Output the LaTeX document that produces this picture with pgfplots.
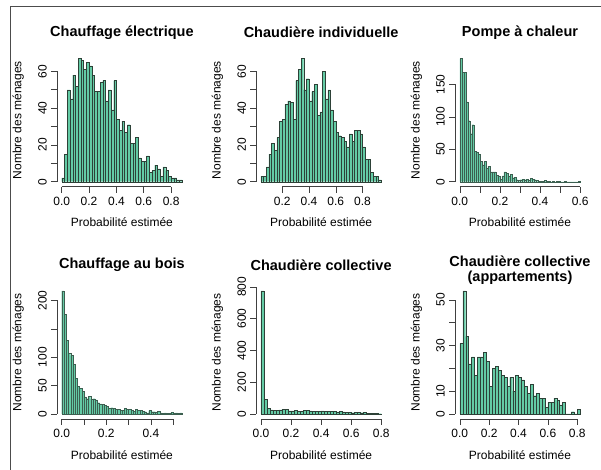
\documentclass[border=0pt]{standalone}
\usepackage{fontspec}
\setmainfont{Liberation Sans}
\usepackage{pgfplots}
\pgfplotsset{compat=1.18}
\definecolor{barfill}{RGB}{100,203,165}
\definecolor{baredge}{RGB}{45,65,55}
\definecolor{baredgelight}{RGB}{60,95,80}
\tikzset{raxis/.style={black!75, line width=0.6pt}}
\pgfplotsset{
  rhist/.style={
    scale only axis, width=130pt, height=133pt,
    axis line style={draw=none},
    tick align=outside, major tick length=6pt,
    xtick pos=bottom, ytick pos=left,
    tick style={black!75, line width=0.6pt},
    clip=false, scaled ticks=false,
    ticklabel style={font=\fontsize{12}{12}\selectfont},
    yticklabel style={rotate=90, anchor=south, inner sep=0pt},
    xticklabel style={anchor=north, inner sep=0pt},
    xticklabel shift=4pt, yticklabel shift=4pt,
    every axis title/.style={at={(0.5,1)}, anchor=center, yshift=21pt, font=\bfseries\fontsize{14.5}{15}\selectfont, align=center},
    every axis x label/.style={at={(0.5,0)}, anchor=center, yshift=-36pt, font=\fontsize{12}{12}\selectfont},
    every axis y label/.style={at={(-0.297,0.5)}, rotate=90, anchor=center, font=\fontsize{12}{12}\selectfont},
    xlabel={Probabilité estimée}, ylabel={Nombre des ménages},
  },
  rbar/.style={ybar interval, fill=barfill, draw=baredge, line width=0.3pt},
  rbarthin/.style={ybar interval, fill=barfill, draw=baredgelight, line width=0.22pt},
}
\begin{document}
\begin{tikzpicture}
\path[use as bounding box] (0,0) rectangle (601pt,-470pt);
\draw[black!70, line width=1pt] (10pt,-470pt) -- (10pt,-7pt) -- (601pt,-7pt);

% Panel 1
\begin{axis}[rhist, at={(56.9pt,-186.6pt)}, anchor=south west,
  title={Chauffage électrique},
  xmin=-0.0352, xmax=0.9152, ymin=-2.68, ymax=69.68,
  xtick={0,0.2,0.4,0.6,0.8}, xticklabels={0.0,0.2,0.4,0.6,0.8},
  ytick={0,10,20,30,40,50,60}, yticklabels={0,,20,,40,,60}]
\addplot[rbar] coordinates {
(0.00,2) (0.02,15) (0.04,50) (0.06,45) (0.08,58) (0.10,52) (0.12,67) (0.14,66) (0.16,61) (0.18,65)
(0.20,63) (0.22,58) (0.24,49) (0.26,49) (0.28,54) (0.30,55) (0.32,44) (0.34,50) (0.36,39) (0.38,55)
(0.40,34) (0.42,28) (0.44,33) (0.46,27) (0.48,31) (0.50,21) (0.52,21) (0.54,24) (0.56,13) (0.58,11)
(0.60,11) (0.62,14) (0.64,5) (0.66,6) (0.68,9) (0.70,7) (0.72,3) (0.74,8) (0.76,6) (0.78,3)
(0.80,2) (0.82,2) (0.84,1) (0.86,1) (0.88,0)};
\draw[raxis] (axis cs:0,-2.68) -- (axis cs:0.8,-2.68);
\draw[raxis] (axis cs:-0.0352,0) -- (axis cs:-0.0352,60);
\end{axis}

% Panel 2
\begin{axis}[rhist, at={(256.1pt,-186.6pt)}, anchor=south west,
  title={Chaudière individuelle},
  xmin=0.004, xmax=0.976, ymin=-2.68, ymax=69.68,
  xtick={0.2,0.4,0.6,0.8}, xticklabels={0.2,0.4,0.6,0.8},
  ytick={0,10,20,30,40,50,60}, yticklabels={0,,20,,40,,60}]
\addplot[rbar] coordinates {
(0.04,3) (0.06,3) (0.08,8) (0.10,15) (0.12,21) (0.14,17) (0.16,24) (0.18,33) (0.20,34) (0.22,42)
(0.24,44) (0.26,43) (0.28,34) (0.30,55) (0.32,61) (0.34,67) (0.36,50) (0.38,56) (0.40,44) (0.42,49)
(0.44,53) (0.46,36) (0.48,38) (0.50,60) (0.52,45) (0.54,50) (0.56,39) (0.58,33) (0.60,27) (0.62,25)
(0.64,24) (0.66,22) (0.68,19) (0.70,26) (0.72,22) (0.74,28) (0.76,28) (0.78,26) (0.80,19) (0.82,12)
(0.84,12) (0.86,5) (0.88,3) (0.90,3) (0.92,1) (0.94,0)};
\draw[raxis] (axis cs:0.2,-2.68) -- (axis cs:0.8,-2.68);
\draw[raxis] (axis cs:0.004,0) -- (axis cs:0.004,60);
\end{axis}

% Panel 3
\begin{axis}[rhist, at={(455pt,-186.6pt)}, anchor=south west,
  title={Pompe à chaleur},
  xmin=-0.024, xmax=0.624, ymin=-7.6, ymax=197.6,
  xtick={0,0.1,0.2,0.3,0.4,0.5,0.6}, xticklabels={0.0,,0.2,,0.4,,0.6},
  ytick={0,50,100,150}, yticklabels={0,50,100,150}]
\addplot[rbarthin] coordinates {
(0.00,190) (0.01,169) (0.02,169) (0.03,123) (0.04,94) (0.05,74) (0.06,88) (0.07,47) (0.08,46) (0.09,42)
(0.10,31) (0.11,26) (0.12,31) (0.13,21) (0.14,24) (0.15,15) (0.16,15) (0.17,15) (0.18,10) (0.19,9)
(0.20,4) (0.21,9) (0.22,15) (0.23,13) (0.24,8) (0.25,11) (0.26,6) (0.27,7) (0.28,3) (0.29,2)
(0.30,3) (0.31,4) (0.32,3) (0.33,4) (0.34,2) (0.35,5) (0.36,4) (0.37,3) (0.38,2) (0.39,1)
(0.40,1) (0.41,1) (0.42,2) (0.43,1) (0.44,1) (0.45,0) (0.46,1) (0.47,0) (0.48,1) (0.49,1)
(0.50,0) (0.51,0) (0.52,1) (0.53,0) (0.54,0) (0.55,0) (0.56,0) (0.57,0) (0.58,0) (0.59,1) (0.60,0)};
\draw[raxis] (axis cs:0,-7.6) -- (axis cs:0.6,-7.6);
\draw[raxis] (axis cs:-0.024,0) -- (axis cs:-0.024,150);
\end{axis}

% Panel 4
\begin{axis}[rhist, at={(56.9pt,-418.9pt)}, anchor=south west,
  title={Chauffage au bois},
  xmin=-0.0216, xmax=0.5616, ymin=-8.68, ymax=225.68,
  xtick={0,0.1,0.2,0.3,0.4,0.5}, xticklabels={0.0,,0.2,,0.4,},
  ytick={0,50,100,150,200}, yticklabels={0,50,100,,200}]
\addplot[rbarthin] coordinates {
(0.00,217) (0.01,176) (0.02,130) (0.03,107) (0.04,103) (0.05,88) (0.06,63) (0.07,49) (0.08,45) (0.09,40)
(0.10,30) (0.11,27) (0.12,31) (0.13,26) (0.14,27) (0.15,25) (0.16,20) (0.17,18) (0.18,17) (0.19,15)
(0.20,14) (0.21,10) (0.22,11) (0.23,10) (0.24,8) (0.25,8) (0.26,7) (0.27,6) (0.28,10) (0.29,8)
(0.30,8) (0.31,6) (0.32,5) (0.33,8) (0.34,7) (0.35,6) (0.36,5) (0.37,4) (0.38,2) (0.39,6)
(0.40,4) (0.41,4) (0.42,3) (0.43,5) (0.44,2) (0.45,1) (0.46,2) (0.47,1) (0.48,1) (0.49,3)
(0.50,1) (0.51,2) (0.52,1) (0.53,2) (0.54,0)};
\draw[raxis] (axis cs:0,-8.68) -- (axis cs:0.5,-8.68);
\draw[raxis] (axis cs:-0.0216,0) -- (axis cs:-0.0216,200);
\end{axis}

% Panel 5
\begin{axis}[rhist, at={(256.1pt,-418.9pt)}, anchor=south west,
  title={Chaudière collective},
  xmin=-0.032, xmax=0.832, ymin=-31, ymax=806,
  xtick={0,0.2,0.4,0.6,0.8}, xticklabels={0.0,0.2,0.4,0.6,0.8},
  ytick={0,200,400,600,800}, yticklabels={0,200,400,600,800}]
\addplot[rbar] coordinates {
(0.00,775) (0.02,92) (0.04,35) (0.06,26) (0.08,22) (0.10,25) (0.12,26) (0.14,29) (0.16,30) (0.18,20)
(0.20,20) (0.22,22) (0.24,18) (0.26,17) (0.28,22) (0.30,22) (0.32,20) (0.34,18) (0.36,17) (0.38,18)
(0.40,19) (0.42,18) (0.44,17) (0.46,16) (0.48,17) (0.50,14) (0.52,15) (0.54,14) (0.56,11) (0.58,9)
(0.60,8) (0.62,9) (0.64,10) (0.66,8) (0.68,9) (0.70,6) (0.72,4) (0.74,3) (0.76,3) (0.78,2) (0.80,0)};
\draw[raxis] (axis cs:0,-31) -- (axis cs:0.8,-31);
\draw[raxis] (axis cs:-0.032,0) -- (axis cs:-0.032,800);
\end{axis}

% Panel 6
\begin{axis}[rhist, at={(455pt,-418.9pt)}, anchor=south west,
  title={Chaudière collective\\(appartements)},
  title style={yshift=-5.5pt},
  xmin=-0.0328, xmax=0.8528, ymin=-2.16, ymax=56.16,
  xtick={0,0.2,0.4,0.6,0.8}, xticklabels={0.0,0.2,0.4,0.6,0.8},
  ytick={0,10,20,30,40,50}, yticklabels={0,10,,30,,50}]
\addplot[rbar] coordinates {
(0.00,31) (0.02,54) (0.04,34) (0.06,22) (0.08,25) (0.10,17) (0.12,25) (0.14,25) (0.16,27) (0.18,23)
(0.20,12) (0.22,20) (0.24,21) (0.26,19) (0.28,17) (0.30,16) (0.32,12) (0.34,16) (0.36,10) (0.38,17)
(0.40,16) (0.42,15) (0.44,12) (0.46,9) (0.48,13) (0.50,8) (0.52,9) (0.54,7) (0.56,7) (0.58,3)
(0.60,5) (0.62,5) (0.64,7) (0.66,6) (0.68,4) (0.70,5) (0.72,0) (0.74,0) (0.76,1) (0.78,0)
(0.80,2) (0.82,0)};
\draw[raxis] (axis cs:0,-2.16) -- (axis cs:0.8,-2.16);
\draw[raxis] (axis cs:-0.0328,0) -- (axis cs:-0.0328,50);
\end{axis}
\end{tikzpicture}
\end{document}
